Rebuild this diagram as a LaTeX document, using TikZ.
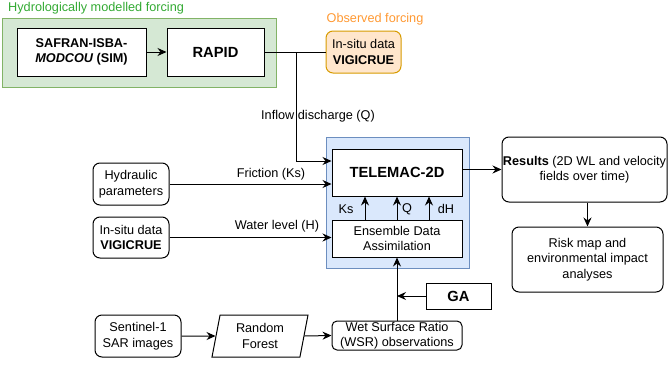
\documentclass[tikz,border=0pt]{standalone}
\usepackage{fontspec}
\setmainfont{Liberation Sans}
\usetikzlibrary{arrows.meta,shapes.geometric}
\definecolor{grfill}{HTML}{D5E8D4}
\definecolor{grline}{HTML}{82B366}
\definecolor{grtext}{RGB}{51,170,51}
\definecolor{orfill}{HTML}{FFE6CC}
\definecolor{orline}{HTML}{D79B00}
\definecolor{ortext}{RGB}{255,153,51}
\definecolor{blfill}{HTML}{DAE8FC}
\definecolor{blline}{HTML}{6C8EBF}
\begin{document}
\begin{tikzpicture}[x=1pt,y=-1pt,
  every node/.style={font=\fontsize{12.7}{15.5}\selectfont, inner sep=0pt, align=center},
  boxx/.style={draw, fill=white, line width=1pt},
  rbox/.style={boxx, rounded corners=7pt},
  bigf/.style={font=\fontsize{14.7}{17}\selectfont\bfseries},
  conn/.style={line width=1pt},
  arr/.style={conn, -{Stealth[length=9pt,width=8pt,inset=3pt]}}]
\useasboundingbox (0,0) rectangle (668,364);
% containers
\node[draw=grline, fill=grfill, line width=1pt, minimum width=274pt, minimum height=69pt] (green) at (139,52.5) {};
\node[text=grtext, anchor=west] (greenlab) at (8,8.5) {Hydrologically modelled forcing};
\node[text=ortext] (orlab) at (375,19) {Observed forcing};
\node[draw=blline, fill=blfill, line width=1pt, minimum width=143pt, minimum height=131pt] (blue) at (397.5,202.5) {};
% boxes
\node[boxx, minimum width=129pt, minimum height=48pt] (safran) at (81.5,52) {\bfseries SAFRAN-ISBA-\\\bfseries\itshape MODCOU\upshape{} (SIM)};
\node[boxx, minimum width=97pt, minimum height=48pt, bigf] (rapid) at (215.5,52) {RAPID};
\node[rbox, draw=orline, fill=orfill, minimum width=75pt, minimum height=42pt] (insitu1) at (363.5,52) {In-situ data\\\textbf{VIGICRUE}};
\node[boxx, minimum width=130pt, minimum height=47pt, bigf] (telemac) at (397,172.5) {TELEMAC-2D};
\node[boxx, minimum width=130pt, minimum height=37pt] (eda) at (397,238.5) {Ensemble Data\\Assimilation};
\node[rbox, minimum width=76pt, minimum height=42pt] (hydraulic) at (131,184) {Hydraulic\\parameters};
\node[rbox, minimum width=76pt, minimum height=41pt] (insitu2) at (131,237.5) {In-situ data\\\textbf{VIGICRUE}};
\node[rbox, minimum width=165pt, minimum height=65pt] (results) at (584.5,169.5) {\textbf{Results} (2D WL and velocity\\fields over time)};
\node[rbox, minimum width=151pt, minimum height=65pt] (risk) at (587.5,259.5) {Risk map and\\environmental impact\\analyses};
\node[boxx, minimum width=65pt, minimum height=26pt, bigf] (ga) at (458.5,296) {GA};
\node[rbox, rounded corners=5pt, minimum width=130pt, minimum height=29pt] (wsr) at (397,335.5) {Wet Surface Ratio\\(WSR) observations};
\node[boxx, trapezium, trapezium left angle=72, trapezium right angle=108, trapezium stretches body, minimum width=96pt, minimum height=42pt] (rf) at (260,336) {Random\\Forest};
\node[rbox, minimum width=86pt, minimum height=42pt] (sentinel) at (138,336) {Sentinel-1\\SAR images};
% connectors
\draw[arr] (safran.east) -- (rapid.west);
\draw[conn] (rapid.east) -- (insitu1.west);
\coordinate (j1) at (296,52);
\draw[arr] (j1) |- ([yshift=11.5pt]telemac.west);
\node (inflow) at (318,116) {Inflow discharge (Q)};
\draw[arr] (hydraulic.east) -- (hydraulic.east -| telemac.west);
\node (fric) at (271,174) {Friction (Ks)};
\draw[arr] (insitu2.east) -- (insitu2.east -| eda.west);
\node (wl) at (277,226) {Water level (H)};
\draw[arr] ([xshift=-32pt]eda.north) -- ([xshift=-32pt]telemac.south);
\draw[arr] (eda.north) -- (telemac.south);
\draw[arr] ([xshift=32pt]eda.north) -- ([xshift=32pt]telemac.south);
\node (ks) at (346,209) {Ks};
\node (q) at (407,209) {Q};
\node (dh) at (446,209) {dH};
\draw[arr] (results.west -| telemac.east) -- (results.west);
\draw[arr] (risk.north |- results.south) -- (risk.north);
\draw[arr] (wsr.north) -- (eda.south);
\draw[arr] (ga.west) -- (ga.west -| wsr.north);
\draw[arr] (sentinel.east) -- (rf.west);
\draw[arr] (rf.east) -- (wsr.west);
\end{tikzpicture}
\end{document}
